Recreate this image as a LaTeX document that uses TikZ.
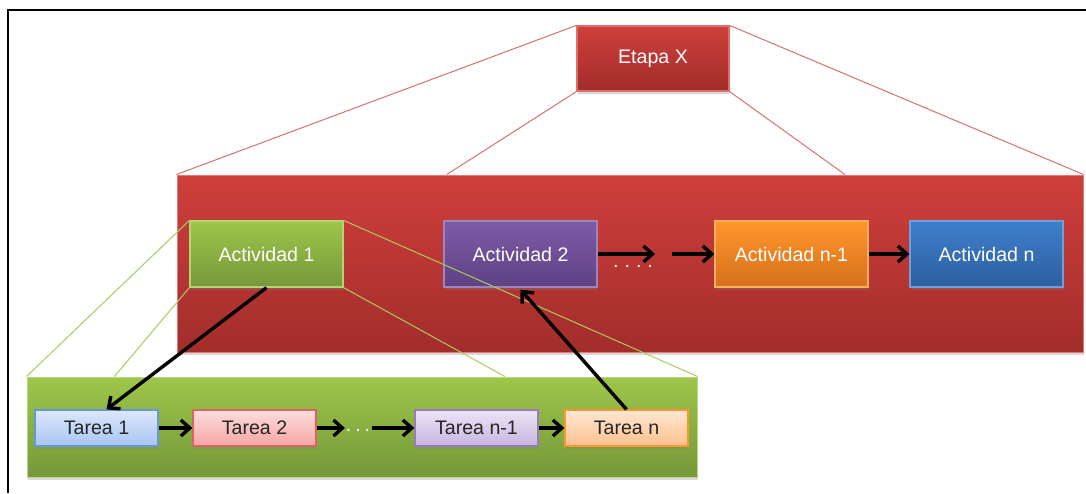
\documentclass[tikz,border=0pt]{standalone}
\usepackage{fontspec}
\setmainfont{Liberation Sans}
\usetikzlibrary{arrows.meta,positioning,calc,shadows}
\definecolor{etred}{HTML}{CF3F3B}
\definecolor{etredd}{HTML}{A22D2B}
\definecolor{etline}{HTML}{D8716E}
\definecolor{acgreen}{HTML}{9DC64A}
\definecolor{acgreend}{HTML}{76983A}
\definecolor{acpurple}{HTML}{7E5BA8}
\definecolor{acpurpled}{HTML}{5D4283}
\definecolor{acorange}{HTML}{FF952B}
\definecolor{acoranged}{HTML}{D6711D}
\definecolor{acblue}{HTML}{3E7FCC}
\definecolor{acblued}{HTML}{2D5F9E}
\definecolor{tablue}{HTML}{DCE8FC}
\definecolor{tablued}{HTML}{A8C5F3}
\definecolor{tapink}{HTML}{FDDDDD}
\definecolor{tapinkd}{HTML}{F4A5A4}
\definecolor{talav}{HTML}{ECE5F5}
\definecolor{talavd}{HTML}{C8B4E0}
\definecolor{tapeach}{HTML}{FFE8D5}
\definecolor{tapeachd}{HTML}{FCC08C}
\tikzset{
  shade/.style={drop shadow={shadow xshift=0.6pt, shadow yshift=-1.4pt, opacity=0.3}},
  band/.style 2 args={rectangle, inner sep=0pt, top color=#1, bottom color=#2,
                      draw=#1!70!white, line width=0.5pt, shade},
  actbox/.style 2 args={rectangle, inner sep=0pt, minimum width=76.5pt, minimum height=33pt,
                        top color=#1, bottom color=#2, draw=#1!75!white, line width=0.6pt,
                        text=white, font=\fontsize{9.8}{12}\selectfont, shade},
  tarbox/.style n args={3}{rectangle, inner sep=0pt, minimum width=61.5pt, minimum height=18pt,
                           top color=#1, bottom color=#2, draw=#3, line width=0.6pt,
                           text=black!85, font=\fontsize{9.8}{12}\selectfont, shade},
  dots/.style={text=white, font=\fontsize{9.8}{12}\selectfont, inner sep=0pt},
  redlink/.style={draw=etline, line width=0.5pt},
  greenlink/.style={draw=acgreen!90!white, line width=0.5pt},
  ar/.style={-{Straight Barb[length=4.5pt,width=8pt]}, line width=1.7pt, black},
}
\begin{document}
\begin{tikzpicture}[x=0.5pt, y=-0.5pt]
\useasboundingbox (0,0) rectangle (1086,493);
\draw[line width=1.3pt] (8,493) -- (8,10) -- (1086,10);

% bands
\node[band={etred}{etredd}, minimum width=453pt, minimum height=88.5pt] (actband) at (630,263.5) {};
\node[band={acgreen}{acgreend}, minimum width=335pt, minimum height=50pt] (tarband) at (362,427) {};

% stage and activities
\node[actbox={etred}{etredd}, minimum width=76pt, minimum height=32.5pt] (etapa) at (653,58.5) {Etapa X};
\node[actbox={acgreen}{acgreend}] (act1) at (266.5,254) {Actividad 1};
\node[actbox={acpurple}{acpurpled}] (act2) at (520.5,254) {Actividad 2};
\node[actbox={acorange}{acoranged}] (actn1) at (791.5,254) {Actividad n-1};
\node[actbox={acblue}{acblued}] (actn) at (986.5,254) {Actividad n};
\node[dots] (adots) at (633,266) {.\hspace{3pt}.\hspace{3pt}.\hspace{3pt}.};

% tasks
\node[tarbox={tablue}{tablued}{acblue!80}] (tar1) at (96.5,428) {Tarea 1};
\node[tarbox={tapink}{tapinkd}{etred!80}] (tar2) at (254.5,428) {Tarea 2};
\node[tarbox={talav}{talavd}{acpurple!80}] (tarn1) at (476.5,428) {Tarea n-1};
\node[tarbox={tapeach}{tapeachd}{acorange}] (tarn) at (626.5,428) {Tarea n};
\node[dots] (tdots) at (358,430) {.\hspace{2pt}.\hspace{2pt}.};

% zoom lines
\coordinate (bandl) at ($(actband.north west)!0.298!(actband.north east)$);
\coordinate (bandr) at ($(actband.north west)!0.737!(actband.north east)$);
\draw[redlink] (etapa.north west) -- (actband.north west);
\draw[redlink] (etapa.north east) -- (actband.north east);
\draw[redlink] (etapa.south west) -- (bandl);
\draw[redlink] (etapa.south east) -- (bandr);
\coordinate (tbandl) at ($(tarband.north west)!0.131!(tarband.north east)$);
\coordinate (tbandr) at ($(tarband.north west)!0.713!(tarband.north east)$);
\draw[greenlink] (act1.north west) -- (tarband.north west);
\draw[greenlink] (act1.north east) -- (tarband.north east);
\draw[greenlink] (act1.south west) -- (tbandl);
\draw[greenlink] (act1.south east) -- (tbandr);

% flow
\coordinate (adotl) at (655,254);
\coordinate (adotr) at (672,254);
\coordinate (tdotl) at (345,428);
\coordinate (tdotr) at (372,428);
\draw[ar] (act2) -- (adotl);
\draw[ar] (adotr) -- (actn1);
\draw[ar] (actn1) -- (actn);
\draw[ar] (tar1) -- (tar2);
\draw[ar] (tar2) -- (tdotl);
\draw[ar] (tdotr) -- (tarn1);
\draw[ar] (tarn1) -- (tarn);
\draw[ar] (act1.south) -- ([xshift=5pt]tar1.north);
\draw[ar] (tarn.north) -- ([yshift=-1pt]act2.south);
\end{tikzpicture}
\end{document}
